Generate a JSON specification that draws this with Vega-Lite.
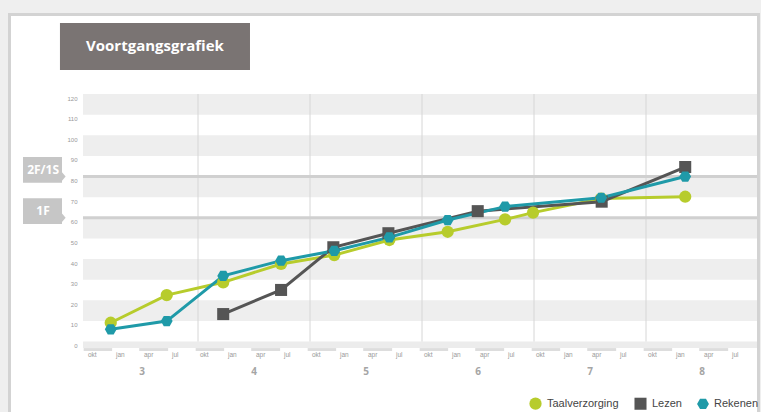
{
  "$schema": "https://vega.github.io/schema/vega-lite/v6.json",
  "width": 761,
  "height": 412,
  "padding": 0,
  "autosize": {"type": "none"},
  "background": "#efefef",
  "view": {"stroke": null},
  "config": {
    "legend": {
      "orient": "bottom-right",
      "direction": "horizontal",
      "offset": 2,
      "padding": 0,
      "labelFont": "Liberation Sans",
      "labelFontSize": 11,
      "labelColor": "#444444",
      "columnPadding": 15,
      "labelOffset": 5,
      "symbolStrokeWidth": 0
    }
  },
  "datasets": {
    "series": [
      {"s": "Taalverzorging", "m": 2.65, "v": 9.1},
      {"s": "Taalverzorging", "m": 8.65, "v": 22.5},
      {"s": "Taalverzorging", "m": 14.7, "v": 28.7},
      {"s": "Taalverzorging", "m": 20.9, "v": 37.6},
      {"s": "Taalverzorging", "m": 26.6, "v": 41.9},
      {"s": "Taalverzorging", "m": 32.5, "v": 49.2},
      {"s": "Taalverzorging", "m": 38.75, "v": 53.2},
      {"s": "Taalverzorging", "m": 44.9, "v": 59.2},
      {"s": "Taalverzorging", "m": 47.9, "v": 62.5},
      {"s": "Taalverzorging", "m": 55.2, "v": 69.3},
      {"s": "Taalverzorging", "m": 64.2, "v": 70.2},
      {"s": "Lezen", "m": 14.7, "v": 13.3},
      {"s": "Lezen", "m": 20.9, "v": 25.0},
      {"s": "Lezen", "m": 26.5, "v": 45.7},
      {"s": "Lezen", "m": 32.4, "v": 52.5},
      {"s": "Lezen", "m": 41.97, "v": 63.2},
      {"s": "Lezen", "m": 55.25, "v": 67.8},
      {"s": "Lezen", "m": 64.2, "v": 84.6},
      {"s": "Rekenen", "m": 2.65, "v": 5.9},
      {"s": "Rekenen", "m": 8.65, "v": 9.9},
      {"s": "Rekenen", "m": 14.7, "v": 31.8},
      {"s": "Rekenen", "m": 20.9, "v": 39.2},
      {"s": "Rekenen", "m": 26.6, "v": 44.0},
      {"s": "Rekenen", "m": 32.5, "v": 50.5},
      {"s": "Rekenen", "m": 38.75, "v": 58.9},
      {"s": "Rekenen", "m": 44.9, "v": 65.4},
      {"s": "Rekenen", "m": 55.2, "v": 69.7},
      {"s": "Rekenen", "m": 64.2, "v": 80.0}
    ],
    "bands": [
      {"lo": 110, "hi": 120}, {"lo": 90, "hi": 100}, {"lo": 70, "hi": 80},
      {"lo": 50, "hi": 60}, {"lo": 30, "hi": 40}, {"lo": 10, "hi": 20}
    ],
    "monthbars": [
      {"a": -0.25, "b": 2.8}, {"a": 5.7, "b": 8.8},
      {"a": 11.75, "b": 14.8}, {"a": 17.7, "b": 20.8},
      {"a": 23.75, "b": 26.8}, {"a": 29.7, "b": 32.8},
      {"a": 35.75, "b": 38.8}, {"a": 41.7, "b": 44.8},
      {"a": 47.75, "b": 50.8}, {"a": 53.7, "b": 56.8},
      {"a": 59.75, "b": 62.8}, {"a": 65.7, "b": 68.8}
    ],
    "years": [
      {"m": 12}, {"m": 24}, {"m": 36}, {"m": 48}, {"m": 60}
    ],
    "yearlabels": [
      {"m": 6, "lab": "3"}, {"m": 18, "lab": "4"}, {"m": 30, "lab": "5"},
      {"m": 42, "lab": "6"}, {"m": 54, "lab": "7"}, {"m": 66, "lab": "8"}
    ],
    "months": [
      {"m": 0, "lab": "okt"}, {"m": 3, "lab": "jan"}, {"m": 6, "lab": "apr"}, {"m": 9, "lab": "jul"},
      {"m": 12, "lab": "okt"}, {"m": 15, "lab": "jan"}, {"m": 18, "lab": "apr"}, {"m": 21, "lab": "jul"},
      {"m": 24, "lab": "okt"}, {"m": 27, "lab": "jan"}, {"m": 30, "lab": "apr"}, {"m": 33, "lab": "jul"},
      {"m": 36, "lab": "okt"}, {"m": 39, "lab": "jan"}, {"m": 42, "lab": "apr"}, {"m": 45, "lab": "jul"},
      {"m": 48, "lab": "okt"}, {"m": 51, "lab": "jan"}, {"m": 54, "lab": "apr"}, {"m": 57, "lab": "jul"},
      {"m": 60, "lab": "okt"}, {"m": 63, "lab": "jan"}, {"m": 66, "lab": "apr"}, {"m": 69, "lab": "jul"}
    ],
    "yticks": [
      {"v": 0}, {"v": 10}, {"v": 20}, {"v": 30}, {"v": 40}, {"v": 50}, {"v": 60},
      {"v": 70}, {"v": 80}, {"v": 90}, {"v": 100}, {"v": 110}, {"v": 120}
    ],
    "refs": [
      {"ref": 80, "lab": "2F/1S"},
      {"ref": 60, "lab": "1F"}
    ],
    "one": [{}]
  },
  "layer": [
    {
      "data": {"name": "one"},
      "mark": {"type": "rect", "color": "#d3d3d3"},
      "encoding": {
        "x": {"datum": -8.357, "type": "quantitative", "scale": {"domain": [-9.214, 72.32], "nice": false, "zero": false}, "axis": null},
        "x2": {"datum": 72.21},
        "y": {"datum": 159.27, "type": "quantitative", "scale": {"domain": [-34.18, 165.58], "nice": false, "zero": false}, "axis": null},
        "y2": {"datum": -34.18}
      }
    },
    {
      "data": {"name": "one"},
      "mark": {"type": "rect", "color": "#ffffff"},
      "encoding": {
        "x": {"datum": -8.036, "type": "quantitative"},
        "x2": {"datum": 71.89},
        "y": {"datum": 157.82, "type": "quantitative"},
        "y2": {"datum": -34.18}
      }
    },
    {
      "data": {"name": "bands"},
      "mark": {"type": "rect", "color": "#eeeeee"},
      "encoding": {
        "x": {"datum": -0.32, "type": "quantitative"},
        "x2": {"datum": 71.89},
        "y": {"field": "lo", "type": "quantitative"},
        "y2": {"field": "hi"}
      }
    },
    {
      "data": {"name": "one"},
      "mark": {"type": "rect", "color": "#ececec"},
      "encoding": {
        "x": {"datum": -0.32, "type": "quantitative"},
        "x2": {"datum": 71.89},
        "y": {"datum": 0, "type": "quantitative"},
        "y2": {"datum": -3.2}
      }
    },
    {
      "data": {"name": "monthbars"},
      "mark": {"type": "rect", "color": "#dddddd"},
      "encoding": {
        "x": {"field": "a", "type": "quantitative"},
        "x2": {"field": "b"},
        "y": {"datum": -3.2, "type": "quantitative"},
        "y2": {"datum": -4.6}
      }
    },
    {
      "data": {"name": "years"},
      "mark": {"type": "rule", "color": "#d6d6d6", "strokeWidth": 1},
      "encoding": {
        "x": {"field": "m", "type": "quantitative"},
        "y": {"datum": 0, "type": "quantitative"},
        "y2": {"datum": 120}
      }
    },
    {
      "data": {"name": "refs"},
      "mark": {"type": "rule", "color": "#d0d0d0", "strokeWidth": 3},
      "encoding": {
        "x": {"datum": -0.32, "type": "quantitative"},
        "x2": {"datum": 71.89},
        "y": {"field": "ref", "type": "quantitative"}
      }
    },
    {
      "data": {"name": "refs"},
      "mark": {
        "type": "point",
        "filled": true,
        "opacity": 1,
        "color": "#c6c6c6",
        "size": 1764,
        "shape": "M-1,-0.93L0.857,-0.93L0.857,-0.2L1.03,0L0.857,0.2L0.857,0.3L-1,0.3Z"
      },
      "encoding": {
        "x": {"datum": -4.5, "type": "quantitative"},
        "y": {"field": "ref", "type": "quantitative"}
      }
    },
    {
      "data": {"name": "refs"},
      "mark": {
        "type": "text",
        "color": "#ffffff",
        "font": "Open Sans",
        "fontWeight": "bold",
        "fontSize": 12,
        "align": "center",
        "baseline": "middle",
        "dy": -6.6
      },
      "encoding": {
        "x": {"datum": -4.6, "type": "quantitative"},
        "y": {"field": "ref", "type": "quantitative"},
        "text": {"field": "lab"}
      }
    },
    {
      "data": {"name": "one"},
      "mark": {"type": "rect", "color": "#7a7473"},
      "encoding": {
        "x": {"datum": -2.79, "type": "quantitative"},
        "x2": {"datum": 17.57},
        "y": {"datum": 131.6, "type": "quantitative"},
        "y2": {"datum": 154.4}
      }
    },
    {
      "data": {"values": [{"t": "Voortgangsgrafiek"}]},
      "mark": {
        "type": "text",
        "color": "#ffffff",
        "font": "Open Sans",
        "fontWeight": "bold",
        "fontSize": 15,
        "align": "center",
        "baseline": "middle"
      },
      "encoding": {
        "x": {"datum": 7.39, "type": "quantitative"},
        "y": {"datum": 143.3, "type": "quantitative"},
        "text": {"field": "t"}
      }
    },
    {
      "data": {"name": "yticks"},
      "mark": {
        "type": "text",
        "color": "#999999",
        "font": "Liberation Sans",
        "fontSize": 6,
        "align": "right",
        "baseline": "middle",
        "dy": 4.5
      },
      "encoding": {
        "x": {"datum": -0.91, "type": "quantitative"},
        "y": {"field": "v", "type": "quantitative"},
        "text": {"field": "v"}
      }
    },
    {
      "data": {"name": "months"},
      "mark": {
        "type": "text",
        "color": "#999999",
        "font": "Liberation Sans",
        "fontSize": 6.5,
        "align": "left",
        "baseline": "middle",
        "dx": 2
      },
      "encoding": {
        "x": {"field": "m", "type": "quantitative"},
        "y": {"datum": -6.55, "type": "quantitative"},
        "text": {"field": "lab"}
      }
    },
    {
      "data": {"name": "yearlabels"},
      "mark": {
        "type": "text",
        "color": "#a5a5a5",
        "font": "Open Sans",
        "fontWeight": "bold",
        "fontSize": 10,
        "align": "center",
        "baseline": "middle"
      },
      "encoding": {
        "x": {"field": "m", "type": "quantitative"},
        "y": {"datum": -14.8, "type": "quantitative"},
        "text": {"field": "lab"}
      }
    },
    {
      "data": {"name": "series"},
      "transform": [{"filter": {"field": "s", "equal": "Taalverzorging"}}],
      "mark": {"type": "line", "strokeWidth": 3, "color": "#b7cc2c"},
      "encoding": {
        "x": {"field": "m", "type": "quantitative"},
        "y": {"field": "v", "type": "quantitative"}
      }
    },
    {
      "data": {"name": "series"},
      "transform": [{"filter": {"field": "s", "equal": "Lezen"}}],
      "mark": {"type": "line", "strokeWidth": 3, "color": "#555555"},
      "encoding": {
        "x": {"field": "m", "type": "quantitative"},
        "y": {"field": "v", "type": "quantitative"}
      }
    },
    {
      "data": {"name": "series"},
      "transform": [{"filter": {"field": "s", "equal": "Rekenen"}}],
      "mark": {"type": "line", "strokeWidth": 3, "color": "#1f9aa8"},
      "encoding": {
        "x": {"field": "m", "type": "quantitative"},
        "y": {"field": "v", "type": "quantitative"}
      }
    },
    {
      "data": {"name": "series"},
      "mark": {"type": "point", "filled": true, "opacity": 1},
      "encoding": {
        "x": {"field": "m", "type": "quantitative"},
        "y": {"field": "v", "type": "quantitative"},
        "color": {
          "field": "s",
          "type": "nominal",
          "scale": {"domain": ["Taalverzorging", "Lezen", "Rekenen"], "range": ["#b7cc2c", "#555555", "#1f9aa8"]},
          "legend": {"title": null}
        },
        "shape": {
          "field": "s",
          "type": "nominal",
          "scale": {"domain": ["Taalverzorging", "Lezen", "Rekenen"], "range": ["circle", "square", "M-1,0L-0.5,-0.866L0.5,-0.866L1,0L0.5,0.866L-0.5,0.866Z"]},
          "legend": {"title": null}
        },
        "size": {
          "field": "s",
          "type": "nominal",
          "scale": {"domain": ["Taalverzorging", "Lezen", "Rekenen"], "range": [150, 140, 210]},
          "legend": {"title": null}
        }
      }
    }
  ]
}
